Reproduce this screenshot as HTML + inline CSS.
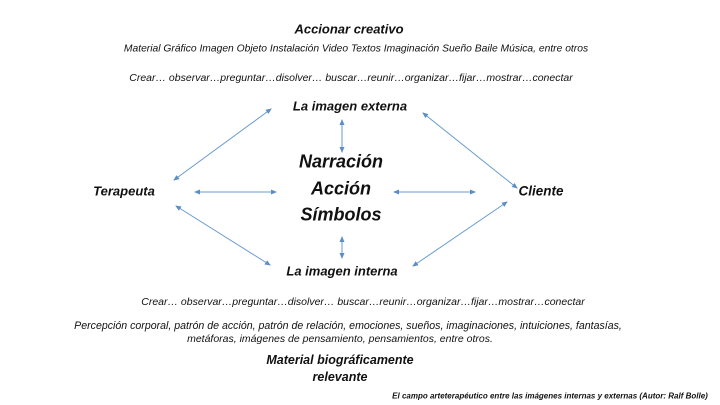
<!DOCTYPE html>
<html><head><meta charset="utf-8"><style>
body{margin:0;width:720px;height:405px;background:#fff;position:relative;overflow:hidden;font-family:"Liberation Sans",sans-serif;font-style:italic;color:#111}
.t{position:absolute;white-space:nowrap;transform:translate(-50%,-50%)}
.b{font-weight:bold}
</style></head><body>
<svg width="720" height="405" style="position:absolute;left:0;top:0">
<defs><marker id="a" markerWidth="6" markerHeight="6" refX="5" refY="3" orient="auto-start-reverse"><path d="M0,0.5 L6,3 L0,5.5 z" fill="#5b8ec6"/></marker></defs>
<g stroke="#6a9bcf" stroke-width="1" marker-start="url(#a)" marker-end="url(#a)">
<line x1="174" y1="180" x2="271" y2="109"/>
<line x1="423" y1="113" x2="517" y2="188"/>
<line x1="342" y1="120" x2="342" y2="152"/>
<line x1="195" y1="192" x2="276" y2="192"/>
<line x1="394" y1="192" x2="475" y2="192"/>
<line x1="176" y1="206" x2="270" y2="265"/>
<line x1="342" y1="237" x2="342" y2="258"/>
<line x1="413" y1="266" x2="507" y2="202"/>
</g></svg>
<div class="t b" style="left:349px;top:29px;font-size:13px">Accionar creativo</div>
<div class="t" style="left:356px;top:49px;font-size:10.3px">Material Gráfico Imagen Objeto Instalación Video Textos Imaginación Sueño Baile Música, entre otros</div>
<div class="t" style="left:351px;top:78px;font-size:10.5px">Crear… observar…preguntar…disolver… buscar…reunir…organizar…fijar…mostrar…conectar</div>
<div class="t b" style="left:350px;top:106px;font-size:13px">La imagen externa</div>
<div class="t b" style="left:341px;top:162px;font-size:18px">Narración</div>
<div class="t b" style="left:341px;top:189px;font-size:18px">Acción</div>
<div class="t b" style="left:341px;top:215px;font-size:18px">Símbolos</div>
<div class="t b" style="left:124px;top:191px;font-size:13px">Terapeuta</div>
<div class="t b" style="left:541px;top:191px;font-size:13.5px">Cliente</div>
<div class="t b" style="left:342px;top:271px;font-size:13px">La imagen interna</div>
<div class="t" style="left:363px;top:302px;font-size:10.5px">Crear… observar…preguntar…disolver… buscar…reunir…organizar…fijar…mostrar…conectar</div>
<div class="t" style="left:348px;top:326px;font-size:10.6px">Percepción corporal, patrón de acción, patrón de relación, emociones, sueños, imaginaciones, intuiciones, fantasías,</div>
<div class="t" style="left:340px;top:339px;font-size:10.5px">metáforas, imágenes de pensamiento, pensamientos, entre otros.</div>
<div class="t b" style="left:340px;top:360px;font-size:12.5px">Material biográficamente</div>
<div class="t b" style="left:340px;top:377px;font-size:12.5px">relevante</div>
<div class="t b" style="left:550px;top:396px;font-size:8px">El campo arteterapéutico entre las imágenes internas y externas (Autor: Ralf Bolle)</div>
</body></html>
